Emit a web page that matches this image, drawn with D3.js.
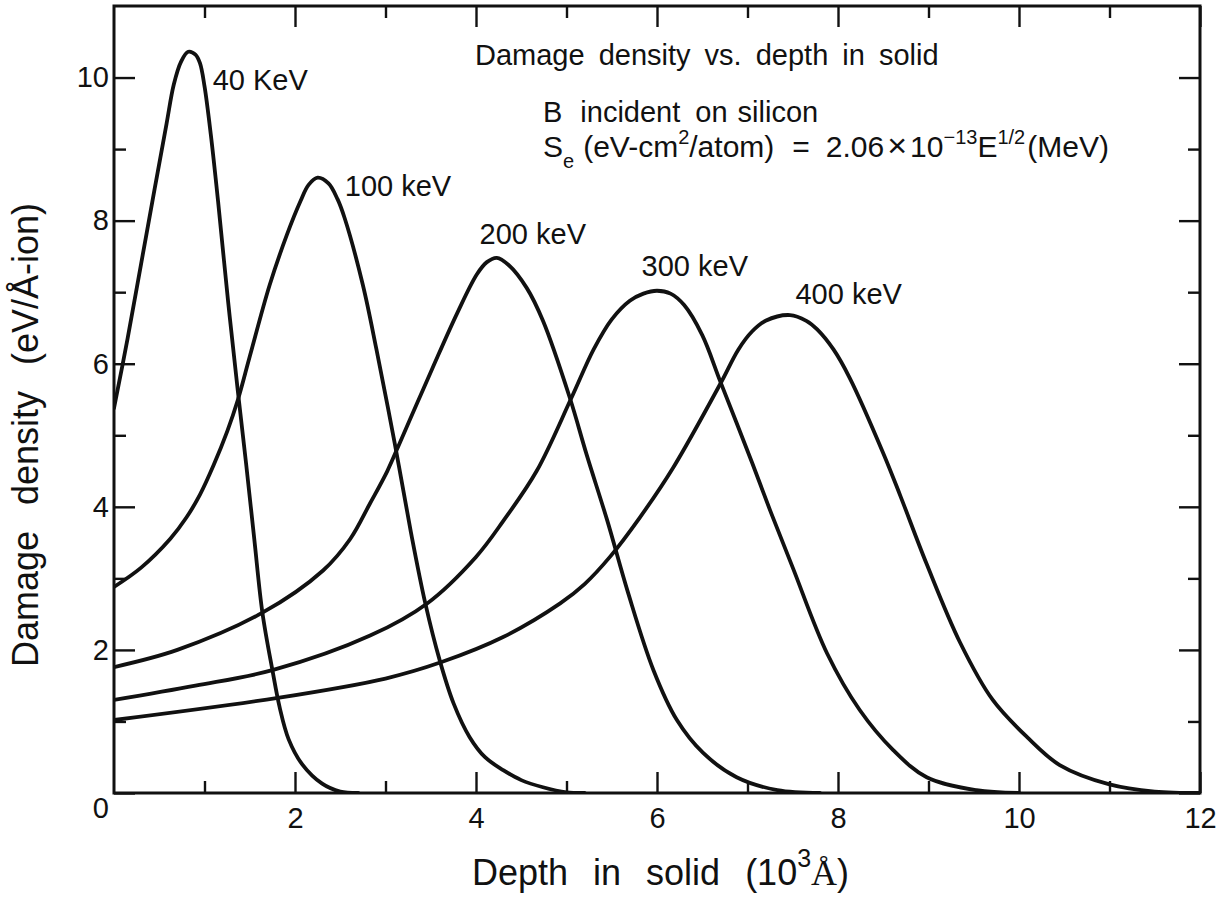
<!DOCTYPE html>
<html>
<head>
<meta charset="utf-8">
<script src="https://cdn.jsdelivr.net/npm/d3@7"></script>
<style>
  html, body { margin: 0; padding: 0; background: #fff; }
  svg { display: block; }
  text { font-family: "Liberation Sans", Arial, Helvetica, sans-serif; fill: #111; }
</style>
</head>
<body>
<svg id="chart" width="1225" height="897"></svg>
<script>
// Damage density profiles of B ions in silicon, one per implant energy.
const energies = ["40 KeV", "100 keV", "200 keV", "300 keV", "400 keV"];

const depth40 = [0, 0.15, 0.3, 0.45, 0.58, 0.66, 0.74, 0.82, 0.9, 0.95, 1.0, 1.07, 1.15, 1.26, 1.37, 1.46, 1.55, 1.64, 1.75, 1.83, 1.93, 2.08, 2.3, 2.5, 2.7];
const dmg40   = [5.38, 6.35, 7.4, 8.45, 9.35, 9.9, 10.22, 10.36, 10.32, 10.2, 9.88, 9.2, 8.27, 6.88, 5.6, 4.6, 3.55, 2.52, 1.72, 1.2, 0.75, 0.4, 0.13, 0.02, 0];

const depth100 = [0, 0.3, 0.62, 0.8, 0.95, 1.1, 1.25, 1.37, 1.5, 1.72, 1.91, 2.06, 2.15, 2.25, 2.37, 2.47, 2.55, 2.75, 2.9, 3.1, 3.28, 3.44, 3.6, 3.75, 3.93, 4.1, 4.3, 4.5, 4.74, 5.0, 5.2];
const dmg100   = [2.88, 3.15, 3.55, 3.85, 4.17, 4.58, 5.05, 5.5, 6.1, 7.1, 7.8, 8.27, 8.5, 8.6, 8.52, 8.3, 8.03, 7.1, 6.2, 4.9, 3.65, 2.65, 1.85, 1.26, 0.78, 0.5, 0.32, 0.18, 0.08, 0.01, 0];

const depth200 = [0, 0.7, 1.64, 2.31, 2.61, 2.83, 3.02, 3.16, 3.35, 3.52, 3.79, 4.01, 4.12, 4.23, 4.36, 4.56, 4.74, 5.04, 5.22, 5.45, 5.68, 5.96, 6.22, 6.51, 6.88, 7.33, 7.8];
const dmg200   = [1.76, 2.0, 2.52, 3.11, 3.55, 4.05, 4.5, 4.9, 5.45, 5.94, 6.7, 7.25, 7.42, 7.48, 7.38, 7.06, 6.6, 5.51, 4.74, 3.81, 2.8, 1.72, 1.02, 0.56, 0.22, 0.04, 0];

const depth300 = [0, 0.9, 1.76, 2.83, 3.46, 4.0, 4.3, 4.67, 5.05, 5.3, 5.5, 5.7, 5.85, 6.0, 6.15, 6.3, 6.5, 6.7, 7.05, 7.25, 7.5, 7.88, 8.24, 8.61, 8.98, 9.53, 10.0];
const dmg300   = [1.3, 1.5, 1.72, 2.2, 2.65, 3.3, 3.8, 4.5, 5.51, 6.2, 6.62, 6.88, 6.98, 7.02, 6.98, 6.82, 6.4, 5.75, 4.62, 3.95, 3.15, 1.95, 1.16, 0.6, 0.22, 0.04, 0];

const depth400 = [0, 1.81, 3.0, 3.62, 4.3, 4.93, 5.2, 5.48, 5.81, 6.18, 6.7, 6.9, 7.05, 7.2, 7.47, 7.65, 7.77, 7.95, 8.13, 8.5, 8.69, 8.98, 9.35, 9.71, 10.09, 10.45, 11.0, 11.5, 12.0];
const dmg400   = [1.02, 1.33, 1.6, 1.83, 2.18, 2.65, 2.92, 3.3, 3.85, 4.55, 5.72, 6.2, 6.45, 6.6, 6.68, 6.6, 6.48, 6.2, 5.8, 4.75, 4.15, 3.2, 2.1, 1.3, 0.78, 0.39, 0.12, 0.02, 0];

const depthSeries = [depth40, depth100, depth200, depth300, depth400];
const damageSeries = [dmg40, dmg100, dmg200, dmg300, dmg400];

// Axis ticks
const xMajorTicks = [2, 4, 6, 8, 10, 12];
const xMinorTicks = [1, 3, 5, 7, 9, 11];
const yMajorTicks = [0, 2, 4, 6, 8, 10];
const yMinorTicks = [1, 3, 5, 7, 9];

// Curve label anchors (depth, damage) in data units
const labelDepth = [1.09, 2.55, 4.04, 5.83, 7.53];
const labelDamage = [9.83, 8.35, 7.68, 7.23, 6.84];

const svg = d3.select("#chart");
const x = d3.scaleLinear().domain([0, 12]).range([114, 1200]);
const y = d3.scaleLinear().domain([0, 11]).range([793, 6]);

const MAJOR = 21, MINOR = 12;

// Bottom axis
const gBottom = svg.append("g").attr("transform", `translate(0,${y(0)})`);
gBottom.call(d3.axisBottom(x).tickValues(xMajorTicks).tickSize(-MAJOR).tickPadding(14).tickFormat(d3.format("d")));
gBottom.append("g").call(d3.axisBottom(x).tickValues(xMinorTicks).tickSize(-MINOR).tickFormat(""));

// Top axis
const gTop = svg.append("g").attr("transform", `translate(0,${y(11)})`);
gTop.call(d3.axisTop(x).tickValues(xMajorTicks).tickSize(-MAJOR).tickFormat(""));
gTop.append("g").call(d3.axisTop(x).tickValues(xMinorTicks).tickSize(-MINOR).tickFormat(""));

// Left axis
const gLeft = svg.append("g").attr("transform", `translate(${x(0)},0)`);
gLeft.call(d3.axisLeft(y).tickValues(yMajorTicks).tickSize(-MAJOR).tickPadding(5).tickFormat(d3.format("d")));
gLeft.append("g").call(d3.axisLeft(y).tickValues(yMinorTicks).tickSize(-MINOR).tickFormat(""));

// Right axis
const gRight = svg.append("g").attr("transform", `translate(${x(12)},0)`);
gRight.call(d3.axisRight(y).tickValues(yMajorTicks).tickSize(-MAJOR).tickFormat(""));
gRight.append("g").call(d3.axisRight(y).tickValues(yMinorTicks).tickSize(-MINOR).tickFormat(""));

svg.selectAll(".domain").remove();
svg.selectAll(".tick line").attr("stroke", "#111").attr("stroke-width", 2.4);
svg.selectAll(".tick text").style("font-size", "29px").attr("fill", "#111");
// the shared origin label sits just below the corner
gLeft.selectAll(".tick").filter(d => d === 0).select("text").attr("dy", "0.85em");

// Frame
svg.append("rect")
  .attr("x", x(0)).attr("y", y(11))
  .attr("width", x(12) - x(0)).attr("height", y(0) - y(11))
  .attr("fill", "none").attr("stroke", "#111").attr("stroke-width", 3);

// Curves, clipped to the plot frame
svg.append("clipPath").attr("id", "plot-area")
  .append("rect")
  .attr("x", x(0)).attr("y", y(11))
  .attr("width", x(12) - x(0)).attr("height", y(0) - y(11) + 1);

const line = d3.line()
  .x(d => x(d[0]))
  .y(d => y(d[1]))
  .curve(d3.curveCatmullRom.alpha(0.5));

svg.append("g").attr("clip-path", "url(#plot-area)")
  .selectAll("path")
  .data(depthSeries.map((ds, i) => ds.map((v, j) => [v, damageSeries[i][j]])))
  .join("path")
  .attr("d", line)
  .attr("fill", "none")
  .attr("stroke", "#111")
  .attr("stroke-width", 3.8)
  .attr("stroke-linejoin", "round")
  .attr("stroke-linecap", "round");

// Curve labels
svg.append("g").selectAll("text")
  .data(energies)
  .join("text")
  .attr("x", (d, i) => x(labelDepth[i]))
  .attr("y", (d, i) => y(labelDamage[i]))
  .style("font-size", "29px")
  .text(d => d);

// Annotation block
const note = svg.append("g").style("font-size", "29px");
note.append("text").attr("x", 475).attr("y", 65)
  .style("word-spacing", "6px")
  .text("Damage density vs. depth in solid");

const l2 = note.append("text").attr("x", 543).attr("y", 122);
l2.append("tspan").text("B");
l2.append("tspan").attr("dx", 18).text("incident");
l2.append("tspan").attr("dx", 15).text("on");
l2.append("tspan").attr("dx", 10).text("silicon");

const l3 = note.append("text").attr("x", 543).attr("y", 157).style("font-size", "30px");
const part = (txt, opts = {}) => {
  const t = l3.append("tspan").text(txt);
  if (opts.dx) t.attr("dx", opts.dx);
  if (opts.dy) t.attr("dy", opts.dy);
  if (opts.size) t.style("font-size", opts.size + "px");
  return t;
};
part("S");
part("e", { dy: 11, size: 20 });
part("(eV-cm", { dy: -11, dx: 9 });
part("2", { dy: -13, size: 20 });
part("/atom)", { dy: 13 });
part("=", { dx: 18 });
part("2.06", { dx: 16 });
part("\u00D7", { dx: 3, size: 34 });
part("10", { dx: 3 });
part("\u221213", { dy: -13, size: 20 });
part("E", { dy: 13 });
part("1/2", { dy: -13, size: 20 });
part("(MeV)", { dy: 13, dx: 2 });

// Axis titles
svg.append("text")
  .attr("transform", `translate(38,${(677 + 193) / 2}) rotate(-90)`)
  .attr("text-anchor", "middle")
  .style("font-size", "36px")
  .style("word-spacing", "16px")
  .text("Damage density (eV/\u00C5-ion)");

const xt = svg.append("text").attr("x", 472).attr("y", 885)
  .style("font-size", "36px").style("word-spacing", "15px");
xt.append("tspan").text("Depth in solid (10");
xt.append("tspan").attr("dy", -18).style("font-size", "25px").text("3");
xt.append("tspan").attr("dy", 18)
  .style("font-family", "'Liberation Serif', 'Times New Roman', serif")
  .text("\u00C5");
xt.append("tspan").text(")");
</script>
</body>
</html>
